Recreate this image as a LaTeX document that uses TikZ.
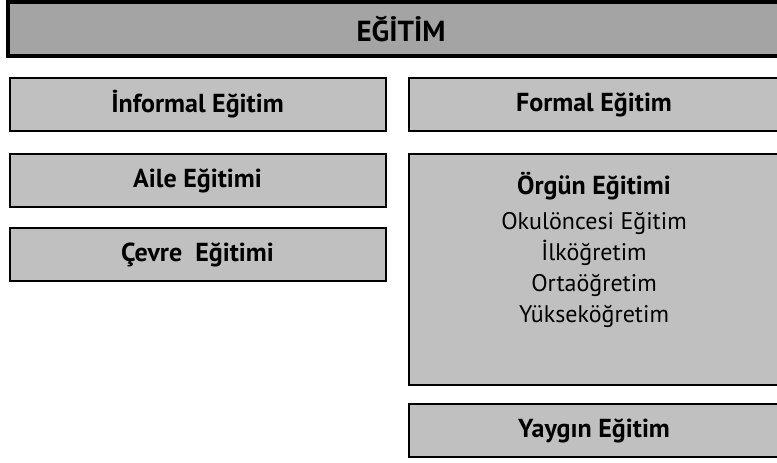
\documentclass[tikz,border=0pt]{standalone}
\usepackage{fontspec}
\setmainfont{PT Sans}
\usetikzlibrary{positioning}
\definecolor{headgray}{HTML}{A4A4A4}
\definecolor{boxgray}{HTML}{C0C0C0}
\tikzset{
    headbox/.style={draw=black,line width=4pt,fill=headgray,font=\bfseries\fontsize{29}{32}\selectfont,
        minimum width=786pt,minimum height=54pt,inner sep=0pt},
    levelbox/.style={draw=black,line width=2pt,fill=boxgray,font=\bfseries\fontsize{26}{29}\selectfont,
        minimum height=53pt,inner sep=0pt},
    leftbox/.style={levelbox,minimum width=376pt},
    rightbox/.style={levelbox,minimum width=370pt},
}

\begin{document}
\begin{tikzpicture}[x=1pt,y=1pt]
    \useasboundingbox (0,0) rectangle (777,-463);
    \clip (0,0) rectangle (777,-463);

    \node [headbox] (egitim) at (401,-29) {EĞİTİM};

    \node [leftbox] (informal) at (197.5,-104.5) {İnformal Eğitim};
    \node [leftbox,below=21pt of informal] (aile) {Aile Eğitimi};
    \node [leftbox,below=19pt of aile] (cevre) {Çevre\ \ Eğitimi};

    \node [rightbox] (formal) at (594,-104.5) {Formal Eğitim};
    \node [rightbox,minimum height=231pt,below=21pt of formal] (orgun) {};
    \node [below=19pt of orgun.north,align=center,inner sep=0pt,
        font=\fontsize{24}{31}\selectfont] (orgunlist)
        {\textbf{\fontsize{26}{31}\selectfont Örgün Eğitimi}\\[4pt]Okulöncesi Eğitim\\İlköğretim\\Ortaöğretim\\Yükseköğretim};
    \node [rightbox,below=17pt of orgun] (yaygin) {Yaygın Eğitim};
\end{tikzpicture}
\end{document}
